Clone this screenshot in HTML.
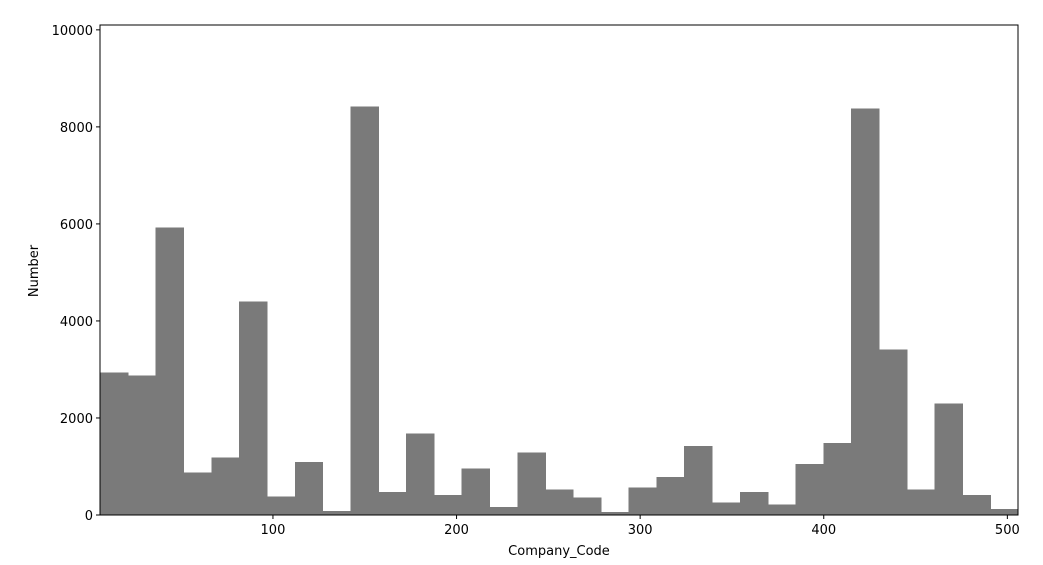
<!DOCTYPE html>
<html><head><meta charset="utf-8"><style>
body{margin:0;background:#fff;}
svg{display:block;font-family:"DejaVu Sans","Liberation Sans",sans-serif;}
</style></head><body>
<svg id="chart" width="1043" height="565"></svg>
<script>
const binStart = 6;
const binWidth = 500/33;
const counts = [2930,2870,5920,870,1180,4390,370,1090,80,8410,470,1670,410,950,160,1280,520,350,60,560,780,1420,250,470,210,1050,1480,8370,3400,520,2290,410,120];
const xTicks = [100,200,300,400,500];
const yTicks = [0,2000,4000,6000,8000,10000];

const L=100,R=1018,T=25,B=515;
const xMin=5.8,xMax=505.8,yMin=0,yMax=10100;
const sx=v=>L+(v-xMin)/(xMax-xMin)*(R-L);
const sy=v=>B-(v-yMin)/(yMax-yMin)*(B-T);
const svg=document.getElementById('chart');
const NS='http://www.w3.org/2000/svg';
function mk(tag,attrs,parent){const e=document.createElementNS(NS,tag);for(const k in attrs)e.setAttribute(k,attrs[k]);(parent||svg).appendChild(e);return e;}

const bars=mk('g',{'shape-rendering':'crispEdges'});


counts.forEach((c,i)=>{
  const x0=sx(binStart+i*binWidth),x1=sx(binStart+(i+1)*binWidth);
  const r=mk('rect',{x:x0,y:sy(c),width:x1-x0,height:sy(0)-sy(c),fill:'#7a7a7a',stroke:'#7a7a7a','stroke-width':0.6},bars);
  
  
});

const frame=mk('rect',{x:L,y:T,width:R-L,height:B-T,fill:'none',stroke:'#000','stroke-width':1});



xTicks.forEach(t=>{
  const x=sx(t);
  mk('line',{x1:x,x2:x,y1:B,y2:B+4,stroke:'#000'});
  const tx=mk('text',{x:x,y:B+19,'text-anchor':'middle','font-size':13});
  tx.textContent=t;
  
  
});
yTicks.forEach(t=>{
  const y=sy(t);
  mk('line',{x1:L-4,x2:L,y1:y,y2:y,stroke:'#000'});
  const tx=mk('text',{x:L-7,y:y+5,'text-anchor':'end','font-size':13});
  tx.textContent=t;
  
  
});
const xt=mk('text',{x:(L+R)/2,y:555,'text-anchor':'middle','font-size':13});
xt.textContent='Company_Code';


const yt=mk('text',{x:38,y:271,'text-anchor':'middle','font-size':13,transform:'rotate(-90 38 271)'});
yt.textContent='Number';


</script>
</body></html>
